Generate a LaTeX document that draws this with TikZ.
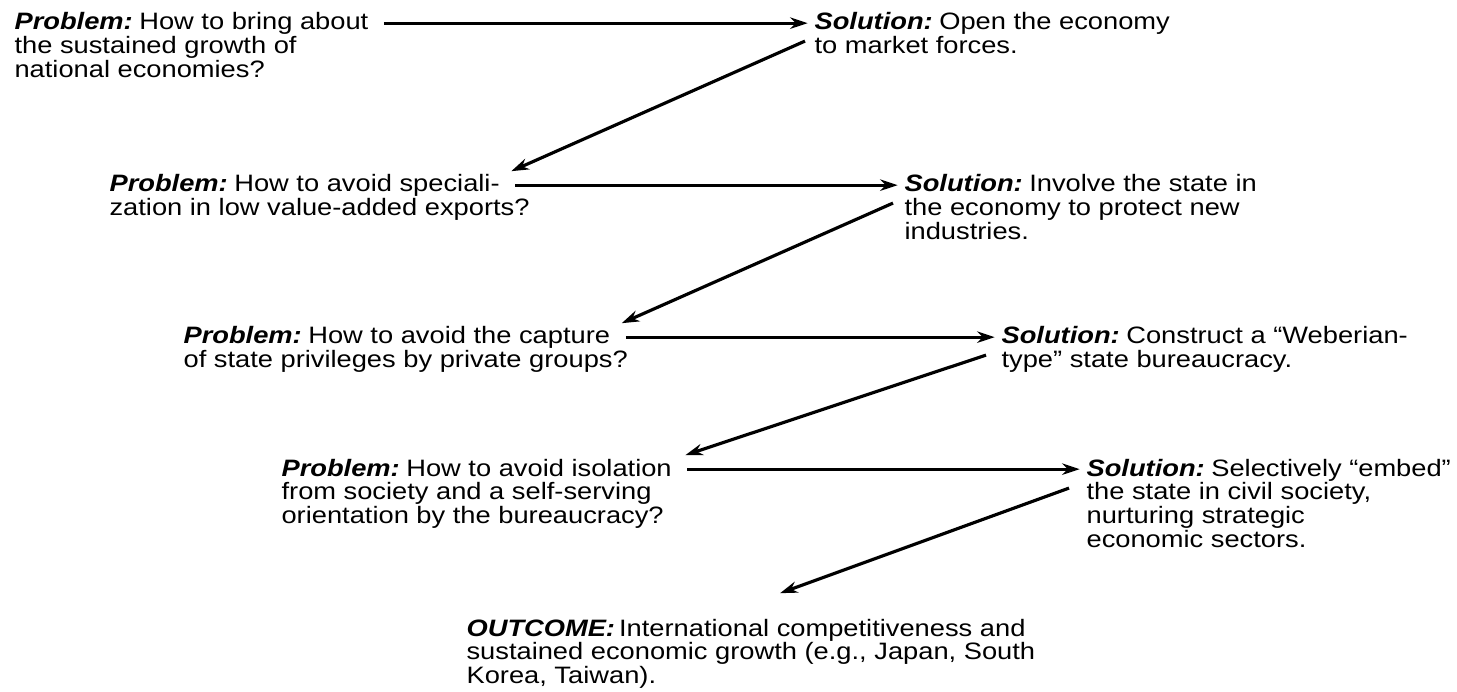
\documentclass[tikz,border=0pt]{standalone}
\usepackage{fontspec}
\setmainfont[FakeStretch=1.15]{Liberation Sans}
\usepackage{tikz}
\usetikzlibrary{arrows.meta}
\newcommand{\prob}{{\bfseries\itshape Problem:}\kern-2pt}
\newcommand{\solu}{{\bfseries\itshape Solution:}\kern-2pt}

\begin{document}
\begin{tikzpicture}[x=0.02cm, y=-0.02cm, line width=1.8pt,
    txt/.style={inner sep=0pt, font=\fontsize{13.5}{11.8}\selectfont},
    head/.style={txt, anchor=base west, text height=9.8pt, text depth=2pt},
    body/.style={txt, anchor=north west, align=left},
    arr/.style={-{Stealth[length=10pt,width=6.5pt]}},
    across/.style={arr, shorten <=8pt, shorten >=3pt}]
    \useasboundingbox (0,0) rectangle (1457,692);
    % problems (left column)
    \node[head] (prob1) at (13,30) {\prob{} How to bring about};
    \node[body] (prob1b) at (prob1.south west) {\rule{0pt}{9.8pt}the sustained growth of\\national economies?};
    \node[head] (prob2) at (108,192) {\prob{} How to avoid speciali-};
    \node[body] (prob2b) at (prob2.south west) {\rule{0pt}{9.8pt}zation in low value-added exports?};
    \node[head] (prob3) at (182,344) {\prob{} How to avoid the capture};
    \node[body] (prob3b) at (prob3.south west) {\rule{0pt}{9.8pt}of state privileges by private groups?};
    \node[head] (prob4) at (280,476) {\prob{} How to avoid isolation};
    \node[body] (prob4b) at (prob4.south west) {\rule{0pt}{9.8pt}from society and a self-serving\\orientation by the bureaucracy?};
    % solutions (right column)
    \node[head] (sol1) at (813,30) {\solu{} Open the economy};
    \node[body] (sol1b) at (sol1.south west) {\rule{0pt}{9.8pt}to market forces.};
    \node[head] (sol2) at (903,192) {\solu{} Involve the state in};
    \node[body] (sol2b) at (sol2.south west) {\rule{0pt}{9.8pt}the economy to protect new\\industries.};
    \node[head] (sol3) at (1000,344) {\solu{} Construct a “Weberian-};
    \node[body] (sol3b) at (sol3.south west) {\rule{0pt}{9.8pt}type” state bureaucracy.};
    \node[head] (sol4) at (1085,476) {\solu{} Selectively “embed”};
    \node[body] (sol4b) at (sol4.south west) {\rule{0pt}{9.8pt}the state in civil society,\\nurturing strategic\\economic sectors.};
    % outcome
    \node[head] (out) at (465,636) {{\bfseries\itshape OUTCOME:}\kern-2pt{} International competitiveness and};
    \node[body] (outb) at (out.south west) {\rule{0pt}{9.8pt}sustained economic growth (e.g., Japan, South\\Korea, Taiwan).};
    % problem -> solution
    \draw[across] (prob1.east) -- (prob1.east -| sol1.west);
    \draw[across] (prob2.east) -- (prob2.east -| sol2.west);
    \draw[across] (prob3.east) -- (prob3.east -| sol3.west);
    \draw[across] (prob4.east) -- (prob4.east -| sol4.west);
    % solution -> next problem
    \draw[arr] ([shift={(-8,6)}]sol1.south west) -- ([shift={(10,-2)}]prob2.north east);
    \draw[arr] ([shift={(-10,6)}]sol2.south west) -- ([shift={(10,-2)}]prob3.north east);
    \draw[arr] ([shift={(-14,6)}]sol3.south west) -- ([shift={(12,-2)}]prob4.north east);
    \draw[arr] ([shift={(-16,7)}]sol4.south west) -- ([shift={(34,-24)}]out.north);
\end{tikzpicture}
\end{document}
